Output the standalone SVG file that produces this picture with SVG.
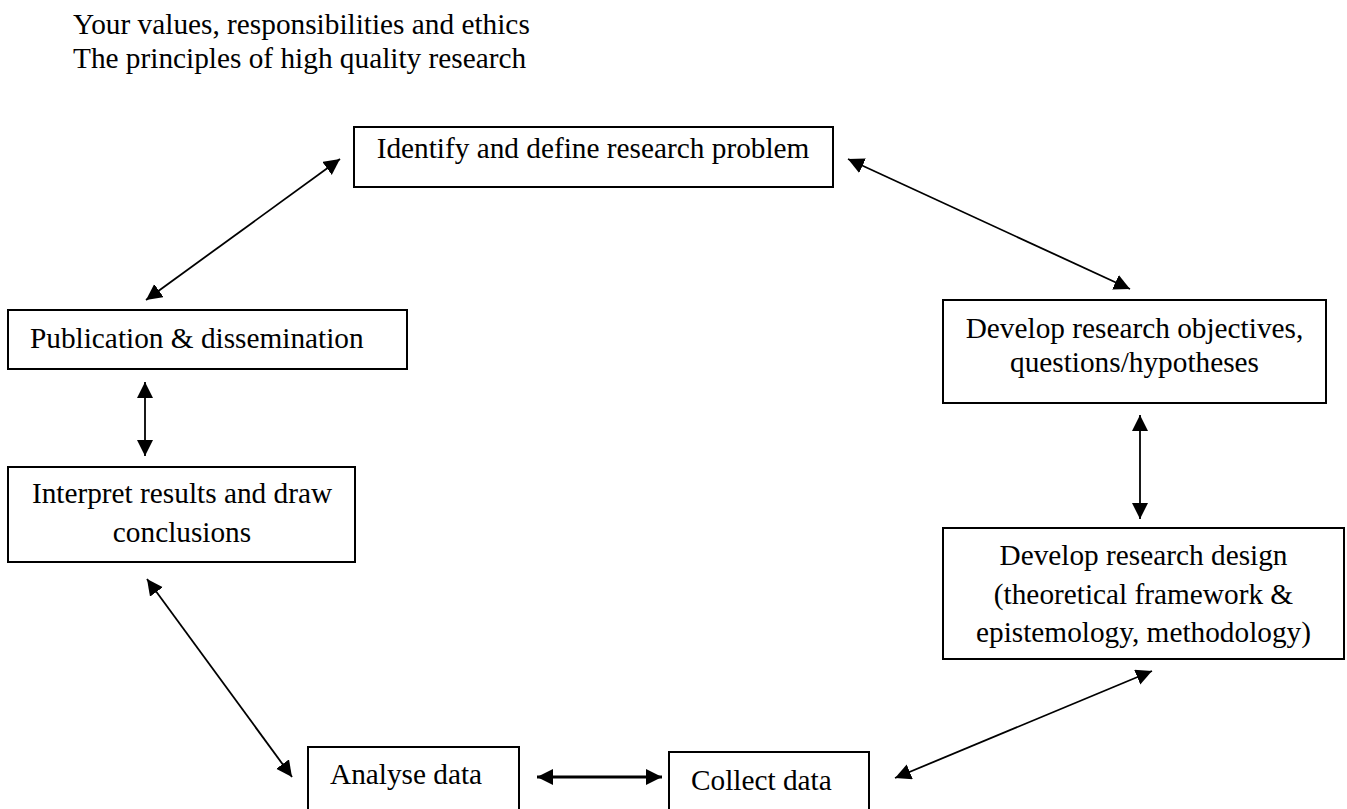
<svg xmlns="http://www.w3.org/2000/svg" width="1347" height="809" viewBox="0 0 1347 809">
<style>
text{font-family:"Liberation Serif","Times New Roman",serif;font-size:29.3px;fill:#000}
.box{fill:#fff;stroke:#000;stroke-width:2}
.c{stroke:#000;stroke-width:1.8;fill:none;marker-start:url(#ah);marker-end:url(#ah)}
.m{text-anchor:middle}
</style>
<defs>
<marker id="ah" markerUnits="userSpaceOnUse" markerWidth="18" markerHeight="17" refX="16" refY="8" orient="auto-start-reverse">
<path d="M0,0 L16,8 L0,16 z" fill="#000"/>
</marker>
</defs>
<rect width="1347" height="809" fill="#fff"/>
<g id="header">
<text x="73" y="34">Your values, responsibilities and ethics</text>
<text x="73" y="68">The principles of high quality research</text>
</g>
<g id="identify">
<rect class="box" x="354" y="127" width="479" height="60"/>
<text class="m" x="593" y="158">Identify and define research problem</text>
</g>
<g id="objectives">
<rect class="box" x="943" y="300" width="383" height="103"/>
<text class="m" x="1134.5" y="338">Develop research objectives,</text>
<text class="m" x="1134.5" y="372">questions/hypotheses</text>
</g>
<g id="design">
<rect class="box" x="943" y="528" width="401" height="131"/>
<text class="m" x="1143.5" y="565">Develop research design</text>
<text class="m" x="1143.5" y="604">(theoretical framework &amp;</text>
<text class="m" x="1143.5" y="642">epistemology, methodology)</text>
</g>
<g id="collect">
<rect class="box" x="669" y="752" width="200" height="70"/>
<text x="691" y="790">Collect data</text>
</g>
<g id="analyse">
<rect class="box" x="308" y="747" width="211" height="75"/>
<text x="330" y="784">Analyse data</text>
</g>
<g id="interpret">
<rect class="box" x="8" y="467" width="347" height="95"/>
<text class="m" x="182" y="503">Interpret results and draw</text>
<text class="m" x="182" y="542">conclusions</text>
</g>
<g id="publication">
<rect class="box" x="8" y="310" width="399" height="59"/>
<text x="30" y="348">Publication &amp; dissemination</text>
</g>
<g id="connectors">
<line class="c" x1="340" y1="159" x2="146" y2="300"/>
<line class="c" x1="848" y1="159" x2="1130" y2="289"/>
<line class="c" x1="1140" y1="415" x2="1140" y2="519"/>
<line class="c" x1="1152" y1="671" x2="895" y2="778"/>
<line class="c" x1="662" y1="777" x2="537" y2="777" style="stroke-width:2.8"/>
<line class="c" x1="292" y1="777" x2="147" y2="579"/>
<line class="c" x1="145" y1="456" x2="145" y2="382"/>
</g>
</svg>
